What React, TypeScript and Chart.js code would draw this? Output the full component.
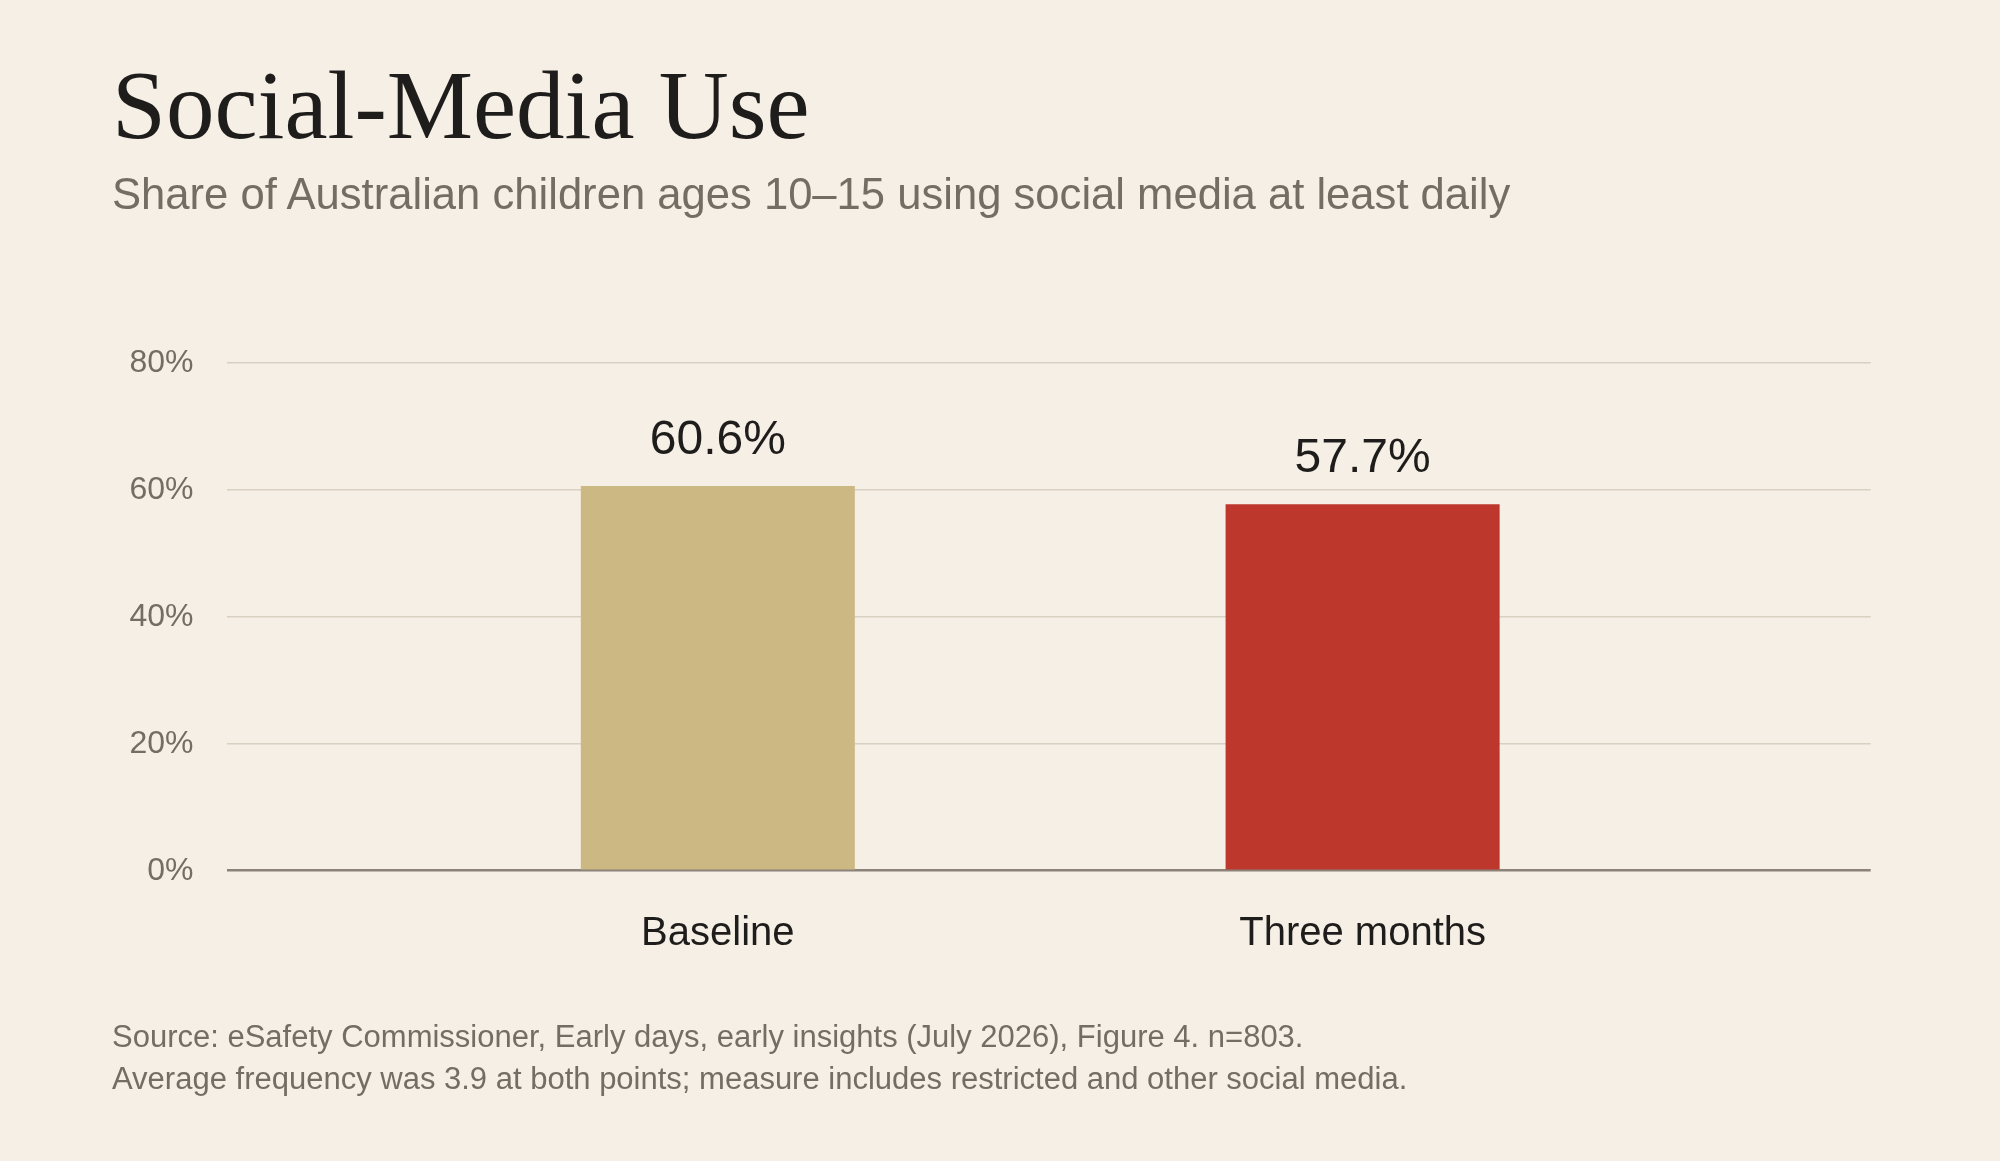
import React, { useEffect, useRef } from 'react';
import { Chart, registerables } from 'chart.js';

Chart.register(...registerables);

// ---- data ----
const categories: string[] = ['Baseline', 'Three months'];
const shares: number[] = [60.6, 57.7];
const barColors: string[] = ['#cbb883', '#bd372d'];
const yTickValues: number[] = [0, 20, 40, 60, 80];

const titleText = 'Social-Media Use';
const subtitleText = 'Share of Australian children ages 10–15 using social media at least daily';
const sourceLines: string[] = [
  'Source: eSafety Commissioner, Early days, early insights (July 2026), Figure 4. n=803.',
  'Average frequency was 3.9 at both points; measure includes restricted and other social media.',
];

const BG = '#f5efe5';
const SANS = "'Liberation Sans', Arial, Helvetica, sans-serif";
const SERIF = "'Liberation Serif', Georgia, 'Times New Roman', serif";
const MUTED = '#756d65';
const DARK = '#1f1d1b';

const valueLabelPlugin = {
  id: 'valueLabels',
  afterDatasetsDraw(chart: any) {
    const ctx = chart.ctx;
    const meta = chart.getDatasetMeta(0);
    ctx.save();
    ctx.font = `48px ${SANS}`;
    ctx.fillStyle = DARK;
    ctx.textAlign = 'center';
    ctx.textBaseline = 'alphabetic';
    meta.data.forEach((bar: any, i: number) => {
      ctx.fillText(shares[i].toFixed(1) + '%', bar.x, bar.y - 32);
    });
    ctx.restore();
  },
};

function BarChart() {
  const ref = useRef<HTMLCanvasElement | null>(null);
  useEffect(() => {
    if (!ref.current) return;
    const chart = new Chart(ref.current, {
      type: 'bar',
      data: {
        datasets: [
          {
            data: categories.map((_, i) => ({ x: i, y: shares[i] })),
            backgroundColor: barColors,
            borderWidth: 0,
            categoryPercentage: 1,
            barPercentage: 0.425,
          },
        ],
      },
      options: {
        animation: false,
        responsive: false,
        devicePixelRatio: window.devicePixelRatio || 1,
        layout: { padding: { top: 362.7, right: 129.3, bottom: 170.3, left: 0 } },
        plugins: {
          legend: { display: false },
          tooltip: { enabled: false },
          title: { display: false },
        },
        scales: {
          x: {
            type: 'linear',
            min: -0.762,
            max: 1.788,
            offset: false,
            bounds: 'data',
            grid: { display: false, drawTicks: false, offset: false },
            border: { display: false },
            afterBuildTicks: (scale: any) => {
              scale.ticks = categories.map((_, i) => ({ value: i }));
            },
            afterFit: (scale: any) => {
              scale.height = 120;
            },
            ticks: {
              padding: 39,
              autoSkip: false,
              maxRotation: 0,
              color: DARK,
              font: { family: SANS, size: 40 },
              callback: (v: any) => categories[Number(v)] ?? '',
            },
          },
          y: {
            min: 0,
            max: 80,
            afterBuildTicks: (scale: any) => {
              scale.ticks = yTickValues.map((v) => ({ value: v }));
            },
            afterFit: (scale: any) => {
              scale.width = 226.5;
            },
            grid: {
              drawTicks: false,
              color: (c: any) => (c.tick && c.tick.value === 0 ? '#8b8279' : '#d9d0c1'),
              lineWidth: (c: any) => (c.tick && c.tick.value === 0 ? 2.5 : 1.6),
            },
            border: { display: false },
            ticks: {
              padding: 33,
              color: MUTED,
              font: { family: SANS, size: 32 },
              callback: (v: any) => `${v}%`,
            },
          },
        },
      } as any,
      plugins: [valueLabelPlugin],
    });
    return () => chart.destroy();
  }, []);
  return (
    <canvas
      ref={ref}
      width={2000}
      height={1161}
      style={{ position: 'absolute', left: 0, top: 0, width: 2000, height: 1161 }}
    />
  );
}

export default function App() {
  useEffect(() => {
    document.body.style.margin = '0';
    document.body.style.background = BG;
  }, []);
  return (
    <div style={{ position: 'relative', width: 2000, height: 1161, background: BG, overflow: 'hidden' }}>
      <BarChart />
      <div
        style={{
          position: 'absolute',
          left: 112,
          top: 56.8,
          fontFamily: SERIF,
          fontSize: 97,
          lineHeight: 1,
          color: DARK,
          whiteSpace: 'nowrap',
        }}
      >
        {titleText}
      </div>
      <div
        style={{
          position: 'absolute',
          left: 112,
          top: 173.2,
          fontFamily: SANS,
          fontSize: 43.6,
          lineHeight: 1,
          color: MUTED,
          whiteSpace: 'nowrap',
        }}
      >
        {subtitleText}
      </div>
      <div
        style={{
          position: 'absolute',
          left: 112,
          top: 1015.9,
          fontFamily: SANS,
          fontSize: 31,
          lineHeight: '42px',
          color: MUTED,
          whiteSpace: 'nowrap',
        }}
      >
        {sourceLines.map((l, i) => (
          <div key={i}>{l}</div>
        ))}
      </div>
    </div>
  );
}
